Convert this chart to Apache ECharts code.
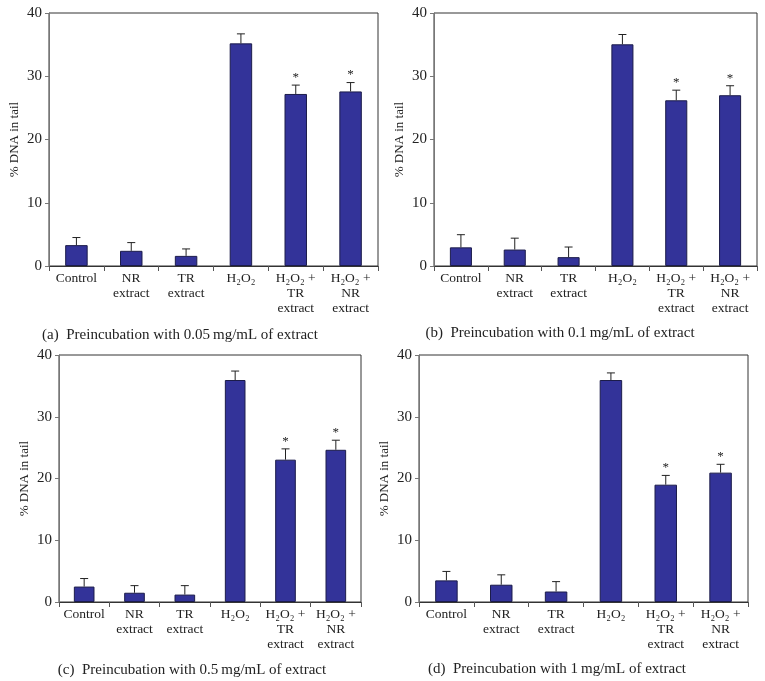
<!DOCTYPE html>
<html>
<head>
<meta charset="utf-8">
<script src="https://cdn.jsdelivr.net/npm/echarts@6/dist/echarts.min.js"></script>
<style>
  html, body { margin: 0; padding: 0; background: #fff; }
  #chart { width: 765px; height: 681px; }
</style>
</head>
<body>
<div id="chart"></div>
<script>
// categories shared by all four panels
var categories = ['Control', 'NR\nextract', 'TR\nextract', 'H₂O₂', 'H₂O₂ +\nTR\nextract', 'H₂O₂ +\nNR\nextract'];
var yTicks = [0, 10, 20, 30, 40];
// % DNA in tail (mean) and upper error (SD) per panel
var meanA = [3.3, 2.4, 1.6, 35.2, 27.2, 27.6];
var errA  = [1.2, 1.3, 1.1, 1.5, 1.4, 1.4];
var meanB = [2.95, 2.6, 1.4, 35.05, 26.2, 27.0];
var errB  = [2.0, 1.8, 1.6, 1.55, 1.6, 1.5];
var meanC = [2.5, 1.5, 1.2, 35.95, 23.05, 24.65];
var errC  = [1.3, 1.15, 1.45, 1.45, 1.75, 1.55];
var meanD = [3.5, 2.8, 1.7, 35.95, 19.0, 20.95];
var errD  = [1.45, 1.6, 1.6, 1.15, 1.5, 1.35];
var significant = [0, 0, 0, 0, 1, 1];
var captions = [
    '(a)  Preincubation with 0.05\u2009mg/mL of extract',
    '(b)  Preincubation with 0.1\u2009mg/mL of extract',
    '(c)  Preincubation with 0.5\u2009mg/mL of extract',
    '(d)  Preincubation with 1\u2009mg/mL of extract'
];

var font = 'Liberation Serif';
var panels = [
    {mean: meanA, err: errA, grid: {left: 49, top: 13, width: 329, height: 253}, cap: [175, 332]},
    {mean: meanB, err: errB, grid: {left: 434, top: 13, width: 323, height: 253}, cap: [555, 330]},
    {mean: meanC, err: errC, grid: {left: 59, top: 355, width: 302, height: 247}, cap: [187, 667]},
    {mean: meanD, err: errD, grid: {left: 419, top: 355, width: 329, height: 247}, cap: [552, 666]}
];

var option = {
    animation: false,
    backgroundColor: '#fff',
    title: [],
    grid: [],
    xAxis: [],
    yAxis: [],
    series: []
};

panels.forEach(function (p, i) {
    option.title.push({
        text: captions[i],
        left: p.cap[0],
        top: p.cap[1] - 9,
        textAlign: 'center',
        textStyle: {fontFamily: font, fontSize: 15, fontWeight: 'normal', color: '#222'}
    });
    option.grid.push({
        left: p.grid.left, top: p.grid.top, width: p.grid.width, height: p.grid.height,
        show: true, borderColor: '#333', borderWidth: 1, backgroundColor: 'transparent'
    });
    option.xAxis.push({
        type: 'category',
        gridIndex: i,
        data: categories,
        axisLine: {lineStyle: {color: '#333', width: 1}},
        axisTick: {show: true, length: 5, lineStyle: {color: '#555'}},
        axisLabel: {fontFamily: font, fontSize: 13.5, color: '#222', margin: 5, lineHeight: 15, interval: 0}
    });
    option.yAxis.push({
        type: 'value',
        gridIndex: i,
        min: yTicks[0], max: yTicks[yTicks.length - 1], interval: 10,
        name: '% DNA in tail',
        nameLocation: 'middle',
        nameGap: 28,
        nameTextStyle: {fontFamily: font, fontSize: 13, color: '#222'},
        axisLine: {show: true, lineStyle: {color: '#777', width: 1}},
        axisTick: {show: true, length: 4, lineStyle: {color: '#777'}},
        splitLine: {show: false},
        axisLabel: {fontFamily: font, fontSize: 15, color: '#222', margin: 7}
    });
    option.series.push({
        type: 'bar',
        xAxisIndex: i, yAxisIndex: i,
        data: p.mean,
        barCategoryGap: '59%',
        itemStyle: {color: '#333399', borderColor: '#1c1c4a', borderWidth: 1}
    });
    // upper error bars with significance stars
    option.series.push({
        type: 'custom',
        xAxisIndex: i, yAxisIndex: i,
        z: 5,
        data: p.mean.map(function (m, k) { return [k, m, m + p.err[k], significant[k]]; }),
        renderItem: function (params, api) {
            var base = api.coord([api.value(0), api.value(1)]);
            var top = api.coord([api.value(0), api.value(2)]);
            var children = [
                {type: 'line', shape: {x1: base[0], y1: base[1], x2: top[0], y2: top[1]}, style: {stroke: '#222', lineWidth: 1}},
                {type: 'line', shape: {x1: top[0] - 4, y1: top[1], x2: top[0] + 4, y2: top[1]}, style: {stroke: '#222', lineWidth: 1}}
            ];
            if (api.value(3)) {
                children.push({
                    type: 'text',
                    style: {x: top[0], y: top[1] - 1, text: '*', align: 'center', verticalAlign: 'bottom',
                        fontFamily: font, fontSize: 13, fill: '#222'}
                });
            }
            return {type: 'group', children: children};
        }
    });
});

var frame = echarts.init(document.getElementById('chart'));
frame.setOption(option);
</script>
</body>
</html>
